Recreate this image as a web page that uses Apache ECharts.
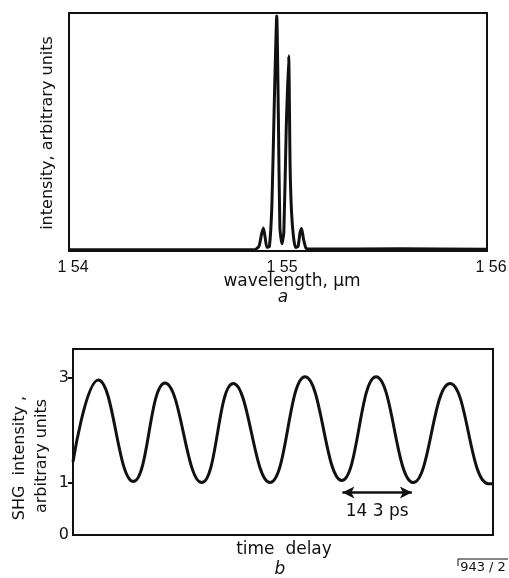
<!DOCTYPE html>
<html>
<head>
<meta charset="utf-8">
<script src="https://cdn.jsdelivr.net/npm/echarts@6/dist/echarts.min.js"></script>
<style>
  html, body { margin: 0; padding: 0; background: #fff; }
  #chart { width: 509px; height: 578px; }
</style>
</head>
<body>
<div id="chart"></div>
<script>
// (a) spectrum: wavelength in µm, intensity in arbitrary units (0..1)
const wavelength = [1.5400, 1.54890, 1.54909, 1.54921, 1.54930, 1.54938, 1.54947, 1.54959, 1.54971, 1.54983,
  1.54994, 1.55002, 1.55009, 1.55019, 1.55028, 1.55039, 1.55051, 1.55058, 1.55065, 1.55074,
  1.55084, 1.55096, 1.55105, 1.55113, 1.55122, 1.55134, 1.55153, 1.55584, 1.5600];
const intensity = [0.005, 0.006, 0.02, 0.07, 0.097, 0.06, 0.015, 0.02, 0.2, 0.65,
  0.987, 0.55, 0.1, 0.03, 0.08, 0.5, 0.82, 0.35, 0.16, 0.06,
  0.015, 0.02, 0.075, 0.095, 0.05, 0.012, 0.008, 0.009, 0.007];
const wlTickLabels = ['1 54', '1 55', '1 56'];

// (b) SHG autocorrelation: time delay in ps, SHG intensity (maxima / minima)
const delay = [0, 5.24, 12.5, 19.06, 26.67, 33.2, 40.8, 48.07, 55.67, 62.78, 70.5, 78.1, 86.05, 87];
const shg = [1.4, 2.96, 1.02, 2.9, 1.0, 2.89, 1.0, 3.02, 1.04, 3.02, 1.0, 2.89, 0.98, 0.98];
const shgTickValues = [0, 1, 3];
const shgTickLabels = ['0', '1', '3'];
const periodArrow = [55.8, 70.2];   // ps, start / end of the 14.3 ps arrow
const arrowLevel = 0.81;
const periodLabel = '14 3 ps';

const chart = echarts.init(document.getElementById('chart'));

const font = 'DejaVu Sans';
const ink = '#111';

chart.setOption({
    backgroundColor: '#fff',
    animation: false,
    textStyle: { fontFamily: font, color: ink },
    grid: [
        { left: 69, right: 22, top: 13, height: 238, outerBoundsMode: 'none', show: true, borderColor: ink, borderWidth: 2 },
        { left: 73, right: 16, top: 349, height: 186, outerBoundsMode: 'none', show: true, borderColor: ink, borderWidth: 2 }
    ],
    xAxis: [
        {
            gridIndex: 0,
            type: 'value',
            min: 1.54,
            max: 1.56,
            interval: 0.01,
            axisLine: { show: false },
            axisTick: { show: false },
            splitLine: { show: false },
            axisLabel: {
                color: ink,
                fontFamily: 'Liberation Sans',
                fontSize: 16,
                margin: 9,
                padding: [0, 0, 0, 8],
                formatter: v => wlTickLabels[Math.round((v - 1.54) / 0.01)]
            }
        },
        {
            gridIndex: 1,
            type: 'value',
            min: 0,
            max: 87,
            axisLine: { show: false },
            axisTick: { show: false },
            splitLine: { show: false },
            axisLabel: { show: false }
        }
    ],
    yAxis: [
        {
            gridIndex: 0,
            type: 'value',
            min: 0,
            max: 1,
            axisLine: { show: false },
            axisTick: { show: false },
            splitLine: { show: false },
            axisLabel: { show: false }
        },
        {
            gridIndex: 1,
            type: 'value',
            min: 0,
            max: 3.55,
            axisLine: { show: false },
            splitLine: { show: false },
            axisTick: {
                show: true,
                length: 5,
                customValues: [1, 3],
                lineStyle: { color: ink, width: 2 }
            },
            axisLabel: {
                color: ink,
                fontSize: 16,
                margin: 4,
                customValues: shgTickValues,
                formatter: v => shgTickLabels[shgTickValues.indexOf(v)]
            }
        }
    ],
    series: [
        {
            type: 'line',
            xAxisIndex: 0,
            yAxisIndex: 0,
            data: wavelength.map((w, i) => [w, intensity[i]]),
            showSymbol: false,
            smooth: 0.2,
            lineStyle: { color: ink, width: 3 }
        },
        {
            type: 'line',
            xAxisIndex: 1,
            yAxisIndex: 1,
            data: delay.map((t, i) => [t, shg[i]]),
            showSymbol: false,
            smooth: 0.45,
            lineStyle: { color: ink, width: 3 },
            markLine: {
                silent: true,
                symbol: ['arrow', 'arrow'],
                symbolSize: [9, 12],
                lineStyle: { color: ink, width: 2.5, type: 'solid' },
                label: {
                    show: true,
                    position: 'insideMiddleBottom',
                    formatter: periodLabel,
                    color: ink,
                    fontFamily: font,
                    fontSize: 17,
                    distance: 11
                },
                data: [[
                    { coord: [periodArrow[0], arrowLevel] },
                    { coord: [periodArrow[1], arrowLevel] }
                ]]
            }
        }
    ],
    graphic: [
        {
            type: 'text', x: 48, y: 133, rotation: Math.PI / 2,
            style: { text: 'intensity, arbitrary units', font: '16px "DejaVu Sans"', fill: ink, align: 'center', verticalAlign: 'middle' }
        },
        {
            type: 'text', x: 292, y: 282,
            style: { text: 'wavelength, µm', font: '17px "DejaVu Sans"', fill: ink, align: 'center', verticalAlign: 'middle' }
        },
        {
            type: 'text', x: 283, y: 298,
            style: { text: 'a', font: 'italic 17px "DejaVu Sans"', fill: ink, align: 'center', verticalAlign: 'middle' }
        },
        {
            type: 'text', x: 20, y: 458, rotation: Math.PI / 2,
            style: { text: 'SHG  intensity ,', font: '16px "DejaVu Sans"', fill: ink, align: 'center', verticalAlign: 'middle' }
        },
        {
            type: 'text', x: 42, y: 456, rotation: Math.PI / 2,
            style: { text: 'arbitrary units', font: '16px "DejaVu Sans"', fill: ink, align: 'center', verticalAlign: 'middle' }
        },
        {
            type: 'text', x: 284, y: 550,
            style: { text: 'time  delay', font: '17px "DejaVu Sans"', fill: ink, align: 'center', verticalAlign: 'middle' }
        },
        {
            type: 'text', x: 280, y: 570,
            style: { text: 'b', font: 'italic 17px "DejaVu Sans"', fill: ink, align: 'center', verticalAlign: 'middle' }
        },
        {
            type: 'text', x: 483, y: 568,
            style: { text: '943 / 2', font: '13px "DejaVu Sans"', fill: ink, align: 'center', verticalAlign: 'middle' }
        },
        {
            type: 'polyline',
            shape: { points: [[458, 566], [458, 559], [508, 559]] },
            style: { stroke: ink, lineWidth: 1, fill: null }
        }
    ]
});

window.addEventListener('resize', () => chart.resize());
</script>
</body>
</html>
